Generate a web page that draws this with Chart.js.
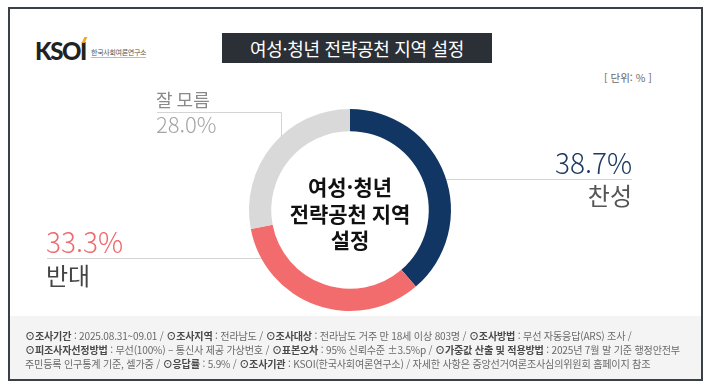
<!DOCTYPE html>
<html lang="ko">
<head>
<meta charset="utf-8">
<script src="https://cdn.jsdelivr.net/npm/chart.js@4.4.1/dist/chart.umd.min.js"></script>
<style>
  html, body { margin: 0; padding: 0; background: #fff; }
  body { width: 710px; height: 389px; position: relative; overflow: hidden; font-family: "Noto Sans CJK KR", "Noto Sans", sans-serif; }
  .frame { position: absolute; left: 8px; top: 7px; width: 691px; height: 370px; border: 2px solid #3b4047; background: #fff; }
  .footer { position: absolute; left: 10px; top: 316px; width: 691px; height: 63px; background: #f4f4f4; }
  .foot { position: absolute; left: 25px; font-size: 10.1px; color: #6a6a6a; white-space: nowrap; letter-spacing: -0.2px; }
  .foot b { color: #4a4a4a; font-weight: 700; }
  .title { position: absolute; left: 222px; top: 33px; width: 270px; height: 30px; background: #2b3037; color: #fff; font-size: 18px; line-height: 30px; text-align: center; letter-spacing: -0.3px; }
  .logo { position: absolute; left: 35px; top: 36px; font-family: "Lato", sans-serif; font-weight: 900; font-size: 24px; color: #222; letter-spacing: -1.5px; }
  .logo span { position: relative; display: inline-block; }
  .logo i { position: absolute; left: 3px; top: 1px; width: 3px; height: 6px; background: #f5a623; transform: skewX(-25deg); }
  .logo-sub { position: absolute; left: 91px; top: 47px; font-size: 7px; color: #555; border-bottom: 1px solid #bbb; letter-spacing: -0.3px; }
  .unit { position: absolute; left: 604px; top: 70px; font-size: 10.5px; color: #666; }
  canvas { position: absolute; left: 0; top: 0; }
</style>
</head>
<body>
<div class="frame"></div>
<div class="footer"></div>
<div class="logo">KSO<span>I<i></i></span></div>
<div class="logo-sub">한국사회여론연구소</div>
<div class="title">여성·청년 전략공천 지역 설정</div>
<div class="unit">[ 단위: % ]</div>
<canvas id="myChart" width="710" height="389"></canvas>
<div class="foot" style="top:328px"><b>⊙조사기간</b> : 2025.08.31~09.01 / <b>⊙조사지역</b> : 전라남도 / <b>⊙조사대상</b> : 전라남도 거주 만 18세 이상 803명 / <b>⊙조사방법</b> : 무선 자동응답(ARS) 조사 /</div>
<div class="foot" style="top:342px"><b>⊙피조사자선정방법</b> : 무선(100%) – 통신사 제공 가상번호 / <b>⊙표본오차</b> : 95% 신뢰수준 ±3.5%p / <b>⊙가중값 산출 및 적용방법</b> : 2025년 7월 말 기준 행정안전부</div>
<div class="foot" style="top:356px">주민등록 인구통계 기준, 셀가중 / <b>⊙응답률</b> : 5.9% / <b>⊙조사기관</b> : KSOI(한국사회여론연구소) / 자세한 사항은 중앙선거여론조사심의위원회 홈페이지 참조</div>

<script>
// data
const labels = ['찬성', '반대', '잘 모름'];
const values = [38.7, 33.3, 28.0];
const colors = ['#113663', '#f36c6d', '#d9d9d9'];
const centerLines = ['여성·청년', '전략공천 지역', '설정'];

const FONT = '"Noto Sans CJK KR", "Noto Sans", sans-serif';

// leader lines + labels around the ring
const labelPlugin = {
  id: 'leaderLabels',
  beforeDatasetsDraw(chart) {
    const arc = chart.getDatasetMeta(0).data[0];
    const cx = arc.x, cy = arc.y, R = arc.outerRadius;
    const c = chart.ctx;
    c.save();
    c.strokeStyle = '#d4d4d4';
    c.lineWidth = 1;
    // 찬성 line (right)
    let y = 179.5;
    c.beginPath();
    c.moveTo(cx + Math.sqrt(R * R - (y - cy) * (y - cy)) - 2, y);
    c.lineTo(632, y);
    c.stroke();
    // 반대 line (left)
    y = 258.5;
    c.beginPath();
    c.moveTo(47, y);
    c.lineTo(cx - Math.sqrt(R * R - (y - cy) * (y - cy)) + 2, y);
    c.stroke();
    // 잘 모름 line (elbow)
    const x = 281.5;
    c.beginPath();
    c.moveTo(157, 112.5);
    c.lineTo(x, 112.5);
    c.lineTo(x, cy - Math.sqrt(R * R - (x - cx) * (x - cx)) + 2);
    c.stroke();
    c.restore();
  },
  afterDatasetsDraw(chart) {
    const arc = chart.getDatasetMeta(0).data[0];
    const cx = arc.x;
    const c = chart.ctx;
    c.save();
    c.textBaseline = 'alphabetic';
    // 찬성
    c.textAlign = 'right';
    c.font = '300 28px ' + FONT;
    c.fillStyle = '#1d3a60';
    c.fillText(values[0].toFixed(1) + '%', 632, 174);
    c.font = '400 24px ' + FONT;
    c.fillStyle = '#555';
    c.fillText(labels[0], 632, 205);
    // 반대
    c.textAlign = 'left';
    c.font = '300 28px ' + FONT;
    c.fillStyle = '#ef6a6e';
    c.fillText(values[1].toFixed(1) + '%', 46, 253);
    c.font = '400 24px ' + FONT;
    c.fillStyle = '#444';
    c.fillText(labels[1], 46, 285);
    // 잘 모름
    c.font = '400 18px ' + FONT;
    c.fillStyle = '#8a8a8a';
    c.fillText(labels[2], 156, 107);
    c.font = '300 22px ' + FONT;
    c.fillStyle = '#a5a5a5';
    c.fillText(values[2].toFixed(1) + '%', 156, 133);
    // center text
    c.textAlign = 'center';
    c.font = '700 21px ' + FONT;
    c.fillStyle = '#111';
    const ys = [195, 222, 248];
    centerLines.forEach((t, i) => c.fillText(t, cx, ys[i]));
    c.restore();
  }
};

const ctx = document.getElementById('myChart');

new Chart(ctx, {
  type: 'doughnut',
  data: {
    labels: labels,
    datasets: [{
      data: values,
      backgroundColor: colors,
      borderWidth: 0,
      hoverOffset: 0
    }]
  },
  options: {
    responsive: false,
    animation: false,
    cutout: '78%',
    layout: {
      padding: { left: 249, right: 259, top: 109, bottom: 78 }
    },
    plugins: {
      legend: { display: false },
      tooltip: { enabled: false }
    }
  },
  plugins: [labelPlugin]
});
</script>
</body>
</html>
